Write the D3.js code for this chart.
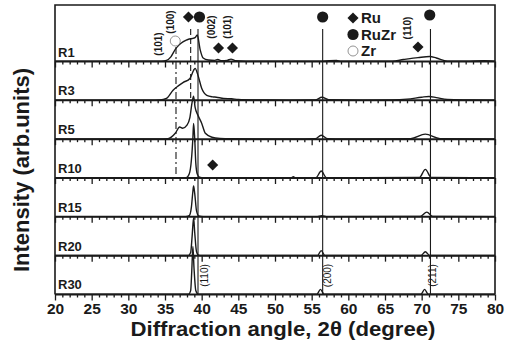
<!DOCTYPE html>
<html>
<head>
<meta charset="utf-8">
<script src="https://cdn.jsdelivr.net/npm/d3@7"></script>
<style>
  body { margin: 0; background: #fff; }
  svg text { font-family: "Liberation Sans", Arial, sans-serif; fill: #1a1a1a; }
</style>
</head>
<body>
<svg id="chart" width="505" height="344"></svg>
<script>
// sample names, top to bottom
var samples = ["R1", "R3", "R5", "R10", "R15", "R20", "R30"];

// [2theta, intensity] (arb. units)
var r1 = [[20,0.5],[26,0.5],[33.5,0.5],[34.5,1],[35.2,3],[35.8,12],[36.4,31],[36.9,42],[37.5,51],[37.9,55],[38.2,57],[38.7,59],[39.1,61],[39.4,68],[39.8,30],[40.2,9],[40.9,4],[41.8,3],[42.2,5],[42.7,2],[43.5,3],[44.0,6],[44.6,2],[46,1],[50,0.5],[56.5,1],[58.4,3],[59,0.5],[66,1],[67.5,5],[69.5,10],[71.1,13],[72,9],[73.5,1],[76,0.5],[78.5,2],[80,1]];
var r3 = [[20,0.5],[30,0.5],[33,0.5],[34.3,1],[35.2,5],[36.1,26],[36.8,37],[37.5,46],[38.4,56],[38.9,77],[39.1,82],[39.5,64],[40.0,31],[40.7,13],[41.5,9],[42,8],[43,5],[44.1,4],[45,2],[47,1],[52,0.5],[55.5,1],[56.4,8],[57.3,1.5],[62,0.5],[66,1],[68,3],[70,8],[71,10],[72,7],[73.5,2],[76,1],[80,0.5]];
var r5 = [[20,0.5],[30,0.5],[34,0.5],[35.4,1],[36.4,15],[37.0,31],[37.4,28],[38.0,36],[38.4,56],[38.7,95],[38.9,110],[39.1,82],[39.5,61],[40.0,41],[40.5,15],[41.4,5],[42.5,2],[44,1],[50,0.5],[55.5,1],[56.3,10],[57.2,1],[62,0.5],[68.5,1.5],[70.5,13],[72.5,1.5],[80,0.5]];
var r10 = [[20,0.5],[30,0.5],[36,0.5],[37.9,1],[38.3,10],[38.6,46],[38.8,102],[38.9,140],[39.05,102],[39.2,38],[39.4,10],[39.7,2],[40.3,0.5],[52.2,0.5],[52.5,3],[52.8,0.5],[55.6,1],[56.3,18],[57,1],[62,0.5],[69.7,1.5],[70.5,22],[71.3,1.5],[80,0.5]];
var r15 = [[20,0.5],[30,0.5],[37.8,0.5],[38.3,3],[38.6,25],[38.8,65],[38.9,79],[39.05,60],[39.3,15],[39.6,2],[40.2,0.5],[55.8,0.5],[56.4,3],[57,0.5],[69.8,1],[70.7,12],[71.5,1],[80,0.5]];
var r20 = [[20,0.5],[30,0.5],[38.2,0.5],[38.5,8],[38.7,50],[38.9,97],[39.05,60],[39.3,10],[39.6,1],[40,0.5],[55.8,0.5],[56.3,13],[56.8,0.5],[69.9,0.5],[70.5,10],[71.1,0.5],[80,0.5]];
var r30 = [[20,0.5],[30,0.5],[38.2,0.5],[38.5,10],[38.65,60],[38.8,123],[38.95,70],[39.2,10],[39.5,1],[40,0.5],[55.7,0.5],[56.2,13],[56.7,0.5],[69.9,0.5],[70.4,13],[70.9,0.5],[80,0.5]];
var patterns = [r1, r3, r5, r10, r15, r20, r30];

// axis ticks
var majorTicks = d3.range(20, 81, 5);
var minorTicks = d3.range(20, 81, 1).filter(function(d) { return d % 5 !== 0; });

// reference lines
var refLines = [
  { angle: 39.5, kind: "solid" },
  { angle: 56.5, kind: "solid" },
  { angle: 71.2, kind: "solid" },
  { angle: 38.5, kind: "dash" },
  { angle: 36.5, kind: "dashdot" }
];

// phase markers
var markers = [
  { sym: "diamond", angle: 38.2, y: 17 },
  { sym: "dot", angle: 39.7, y: 17 },
  { sym: "open", angle: 36.4, y: 41 },
  { sym: "diamond", angle: 42.3, y: 48 },
  { sym: "diamond", angle: 44.2, y: 48 },
  { sym: "diamond", angle: 41.5, y: 165 },
  { sym: "dot", angle: 56.5, y: 17 },
  { sym: "dot", angle: 71.1, y: 15 },
  { sym: "diamond", angle: 69.5, y: 47 }
];
var legendItems = [
  { sym: "diamond", name: "Ru" },
  { sym: "dot", name: "RuZr" },
  { sym: "open", name: "Zr" }
];
var hklTop = [
  { label: "(101)", angle: 34.05, y: 44 },
  { label: "(100)", angle: 35.8, y: 22 },
  { label: "(002)", angle: 41.4, y: 27 },
  { label: "(101)", angle: 43.5, y: 27 },
  { label: "(110)", angle: 68.1, y: 28 }
];
var hklBottom = [
  { label: "(110)", angle: 40.45 },
  { label: "(200)", angle: 57.2 },
  { label: "(211)", angle: 71.5 }
];

var svg = d3.select("#chart");
var ink = "#1a1a1a";

var x = d3.scaleLinear().domain([20, 80]).range([55, 495]);
var h = d3.scaleLinear().domain([0, 100]).range([0, 39]);

var top0 = 5;
var firstH = 56.5, stepH = 38.83;
var baselines = samples.map(function(s, i) { return top0 + firstH + i * stepH; });
var bottom = baselines[baselines.length - 1];

// frame
svg.append("path")
  .attr("d", "M" + x(20) + "," + bottom + "V" + top0 + "H" + x(80) + "V" + bottom)
  .attr("fill", "none").attr("stroke", ink).attr("stroke-width", 1.6);

// reference lines
var dashes = { solid: null, dash: "6,3", dashdot: "7,3,2,3" };
var lineExtent = { solid: [29, bottom], dash: [29, baselines[1]], dashdot: [47, baselines[3]] };
refLines.forEach(function(r) {
  svg.append("line")
    .attr("x1", x(r.angle)).attr("x2", x(r.angle))
    .attr("y1", lineExtent[r.kind][0]).attr("y2", lineExtent[r.kind][1])
    .attr("stroke", ink).attr("stroke-width", 1.1)
    .attr("stroke-dasharray", dashes[r.kind]);
});

// panels
var line = d3.line().curve(d3.curveMonotoneX);
samples.forEach(function(name, i) {
  var base = baselines[i];
  var last = i === samples.length - 1;

  var major = d3.axisBottom(x).tickValues(majorTicks).tickSize(6)
    .tickFormat(last ? d3.format("d") : "");
  var minor = d3.axisBottom(x).tickValues(minorTicks).tickSize(3).tickFormat("");

  var gm = svg.append("g").attr("transform", "translate(0," + base + ")").call(minor);
  var gM = svg.append("g").attr("transform", "translate(0," + base + ")").call(major);
  [gm, gM].forEach(function(g) {
    g.select(".domain").remove();
    g.selectAll(".tick line").attr("stroke", ink).attr("stroke-width", 1.3);
  });
  gm.selectAll(".tick text").remove();
  if (!last) gM.selectAll(".tick text").remove();
  gM.selectAll(".tick text")
    .attr("y", 8.5).attr("dy", "0.71em")
    .style("font-size", "15.5px").style("font-weight", "bold").attr("fill", ink);

  svg.append("line")
    .attr("x1", x(20)).attr("x2", x(80)).attr("y1", base).attr("y2", base)
    .attr("stroke", ink).attr("stroke-width", 2);

  svg.append("path")
    .datum(patterns[i])
    .attr("d", line.x(function(d) { return x(d[0]); }).y(function(d) { return base - h(d[1]); }))
    .attr("fill", "none").attr("stroke", ink).attr("stroke-width", 1.4)
    .attr("stroke-linejoin", "round");

  svg.append("text")
    .attr("x", 58).attr("y", base - 5)
    .style("font-size", "13px").style("font-weight", "bold")
    .text(name);
});

// symbols
function drawSymbol(sym, cx, cy) {
  if (sym === "diamond") {
    svg.append("path")
      .attr("d", d3.symbol().type(d3.symbolSquare).size(62)())
      .attr("transform", "translate(" + cx + "," + cy + ") rotate(45)")
      .attr("fill", ink);
  } else if (sym === "dot") {
    svg.append("circle").attr("cx", cx).attr("cy", cy).attr("r", 5.6).attr("fill", ink);
  } else {
    svg.append("circle").attr("cx", cx).attr("cy", cy).attr("r", 5)
      .attr("fill", "#fff").attr("stroke", "#888").attr("stroke-width", 0.9);
  }
}
markers.forEach(function(m) { drawSymbol(m.sym, x(m.angle), m.y); });

// legend
legendItems.forEach(function(d, i) {
  var cy = 18 + i * 16.5;
  drawSymbol(d.sym, 353, cy);
  svg.append("text")
    .attr("x", 361).attr("y", cy).attr("dy", "0.36em")
    .style("font-size", "15px").style("font-weight", "bold")
    .text(d.name);
});

// hkl labels
function vlabel(d, cy, weight) {
  var cx = x(d.angle);
  svg.append("text")
    .attr("transform", "translate(" + cx + "," + cy + ") rotate(-90)")
    .attr("text-anchor", "middle").attr("dy", "0.35em")
    .style("font-size", "10px").style("font-weight", weight)
    .text(d.label);
}
hklTop.forEach(function(d) { vlabel(d, d.y, "bold"); });
hklBottom.forEach(function(d) { vlabel(d, bottom - 19, "normal"); });

// axis titles
svg.append("text")
  .attr("x", 283).attr("y", 336)
  .attr("text-anchor", "middle")
  .attr("textLength", 305).attr("lengthAdjust", "spacingAndGlyphs")
  .style("font-size", "20px").style("font-weight", "bold")
  .text("Diffraction angle, 2\u03b8 (degree)");

svg.append("text")
  .attr("transform", "translate(29,170) rotate(-90)")
  .attr("text-anchor", "middle")
  .style("font-size", "22px").style("font-weight", "bold")
  .text("Intensity (arb.units)");
</script>
</body>
</html>
